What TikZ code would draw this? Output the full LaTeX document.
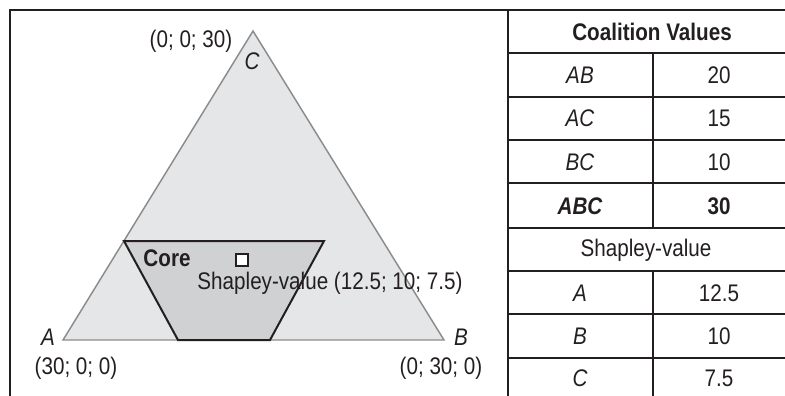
\documentclass[tikz,border=0pt]{standalone}
\usepackage{fontspec}
\setmainfont{Liberation Sans}[FakeStretch=0.86]

\tikzset{every picture/.style={line width=0.75pt}}
\definecolor{ink}{RGB}{35,31,32}

\begin{document}
\begin{tikzpicture}[x=0.75pt,y=0.75pt,yscale=-1,xscale=1,
	font=\fontsize{18}{21}\selectfont, text=ink,
	rule/.style={draw=ink, line width=1.5pt},
	cell/.style={inner sep=0pt, anchor=center}]
	\useasboundingbox (0,0) rectangle (785,396);

	% corners of the triangle and of the core
	\coordinate (A) at (63,340);
	\coordinate (B) at (444,340);
	\coordinate (C) at (253,31);
	\coordinate (core1) at (124,241);
	\coordinate (core2) at (324,241);
	\coordinate (core3) at (270,340);
	\coordinate (core4) at (178,340);

	%Shape: Triangle
	\draw  [draw={rgb, 255:red, 140; green, 140; blue, 140 }, line width=1.1pt, fill={rgb, 255:red, 229; green, 230; blue, 232 }] (A) -- (B) -- (C) -- cycle ;
	%Shape: Core
	\draw  [rule, fill={rgb, 255:red, 208; green, 209; blue, 211 }] (core1) -- (core2) -- (core3) -- (core4) -- cycle ;
	%Shape: Square
	\node (shap) [draw=ink, line width=1.5pt, fill=white, minimum size=9pt, inner sep=0pt] at (242,260) {};

	% Text Node
	\node (lblC) [cell] at (191,41) {(0; 0; 30)};
	\node (nameC) [cell] at (252,61) {\itshape C};
	\node (nameA) [cell] at (48,337) {\itshape A};
	\node (nameB) [cell] at (461,337) {\itshape B};
	\node (lblA) [cell] at (76,368) {(30; 0; 0)};
	\node (lblB) [cell] at (441,368) {(0; 30; 0)};
	\node (core) [cell] at (167,258) {\bfseries Core};
	\node (shaptxt) [cell] at (330,283) {Shapley-value (12.5; 10; 7.5)};

	%Frame and table rules
	\draw [rule] (785,10) -- (10,10) -- (10,396) ;
	\draw [rule] (508,10) -- (508,396) ;
	\foreach \y in {53,97,140,183,228,271,314,358}
		\draw [rule] (508,\y) -- (785,\y) ;
	\draw [rule] (653,53) -- (653,228) ;
	\draw [rule] (653,271) -- (653,396) ;

	% Table text
	\node (hdrval) [cell] at (652,32) {\bfseries Coalition Values};
	\foreach \name/\val/\y in {AB/20/75, AC/15/118, BC/10/162}{
		\node (row\name) [cell] at (580,\y) {\itshape \name};
		\node (val\name) [cell] at (719,\y) {\val};
	}
	\node (rowABC) [cell] at (580,206) {\bfseries\itshape ABC};
	\node (valABC) [cell] at (719,206) {\bfseries 30};
	\node (hdrshap) [cell] at (646,250) {Shapley-value};
	\foreach \name/\val/\y in {A/12.5/293, B/10/336, C/7.5/378}{
		\node (sh\name) [cell] at (580,\y) {\itshape \name};
		\node (shv\name) [cell] at (719,\y) {\val};
	}

\end{tikzpicture}
\end{document}
